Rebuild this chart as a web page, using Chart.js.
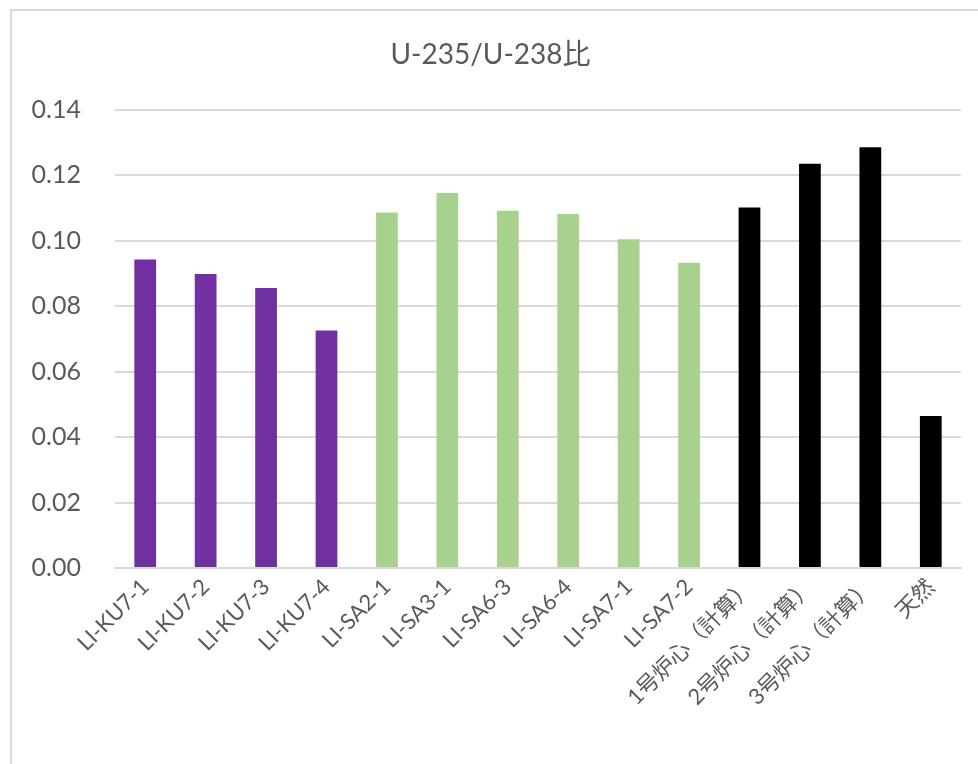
<!DOCTYPE html>
<html>
<head>
<meta charset="utf-8">
<script src="https://cdn.jsdelivr.net/npm/chart.js@4/dist/chart.umd.min.js"></script>
<style>
  html, body { margin: 0; padding: 0; background: #fff; overflow: hidden; }
  #wrap { position: relative; width: 978px; height: 764px; }
  #frame { position: absolute; left: 10px; top: 9px; width: 1000px; height: 800px;
           border-top: 2px solid #d9d9d9; border-left: 2px solid #d9d9d9; }
  canvas { position: absolute; left: 0; top: 0; }
</style>
</head>
<body>
<div id="wrap">
  <div id="frame"></div>
  <canvas id="ratio_chart" width="978" height="764"></canvas>
</div>
<script>
// sample names and measured / calculated U-235/U-238 ratios
const labels = ['LI-KU7-1', 'LI-KU7-2', 'LI-KU7-3', 'LI-KU7-4',
    'LI-SA2-1', 'LI-SA3-1', 'LI-SA6-3', 'LI-SA6-4', 'LI-SA7-1', 'LI-SA7-2',
    '1号炉心（計算）', '2号炉心（計算）', '3号炉心（計算）', '天然'];
const ratios = [0.0942, 0.0898, 0.0855, 0.0725,
    0.1086, 0.1145, 0.1091, 0.1081, 0.1004, 0.0932,
    0.1101, 0.1235, 0.1285, 0.0464];
// colour for each group of bars (KU, SA, reference)
const groupColors = ['#7030a0', '#a9d18e', '#000000'];
const groupSizes = [4, 6, 4];
const yTicks = [0, 0.02, 0.04, 0.06, 0.08, 0.10, 0.12, 0.14];

const barColors = [];
groupSizes.forEach((n, g) => {
    for (let i = 0; i < n; i++) barColors.push(groupColors[g]);
});

const fontFamily = "Lato, 'Noto Sans CJK JP', sans-serif";

const ctx = document.getElementById('ratio_chart').getContext('2d');
new Chart(ctx, {
    type: 'bar',
    data: {
        labels: labels,
        datasets: [{
            data: ratios,
            backgroundColor: barColors,
            borderWidth: 0,
            barPercentage: 0.36,
            categoryPercentage: 1.0
        }]
    },
    options: {
        responsive: false,
        animation: false,
        layout: { padding: { left: 20, right: 17, top: 38, bottom: 0 } },
        plugins: {
            legend: { display: false },
            tooltip: { enabled: false },
            title: {
                display: true,
                text: 'U-235/U-238比',
                color: '#595959',
                font: { family: fontFamily, size: 28, weight: 'normal' },
                padding: { top: 0, bottom: 38 }
            }
        },
        scales: {
            x: {
                grid: { display: false, drawTicks: false },
                border: { display: true, color: '#d9d9d9', width: 2 },
                ticks: {
                    color: '#595959',
                    font: { family: fontFamily, size: 22 },
                    maxRotation: 45,
                    minRotation: 45,
                    autoSkip: false,
                    padding: 6
                },
                afterFit: scale => { scale.height = 196; }
            },
            y: {
                min: 0,
                max: 0.14,
                afterBuildTicks: scale => {
                    scale.ticks = yTicks.map(v => ({ value: v }));
                },
                grid: { color: '#d9d9d9', lineWidth: 2, drawTicks: false },
                border: { display: false },
                ticks: {
                    color: '#595959',
                    font: { family: fontFamily, size: 25 },
                    padding: 34,
                    callback: v => v.toFixed(2)
                },
                afterFit: scale => { scale.width = 95; }
            }
        }
    }
});
</script>
</body>
</html>
